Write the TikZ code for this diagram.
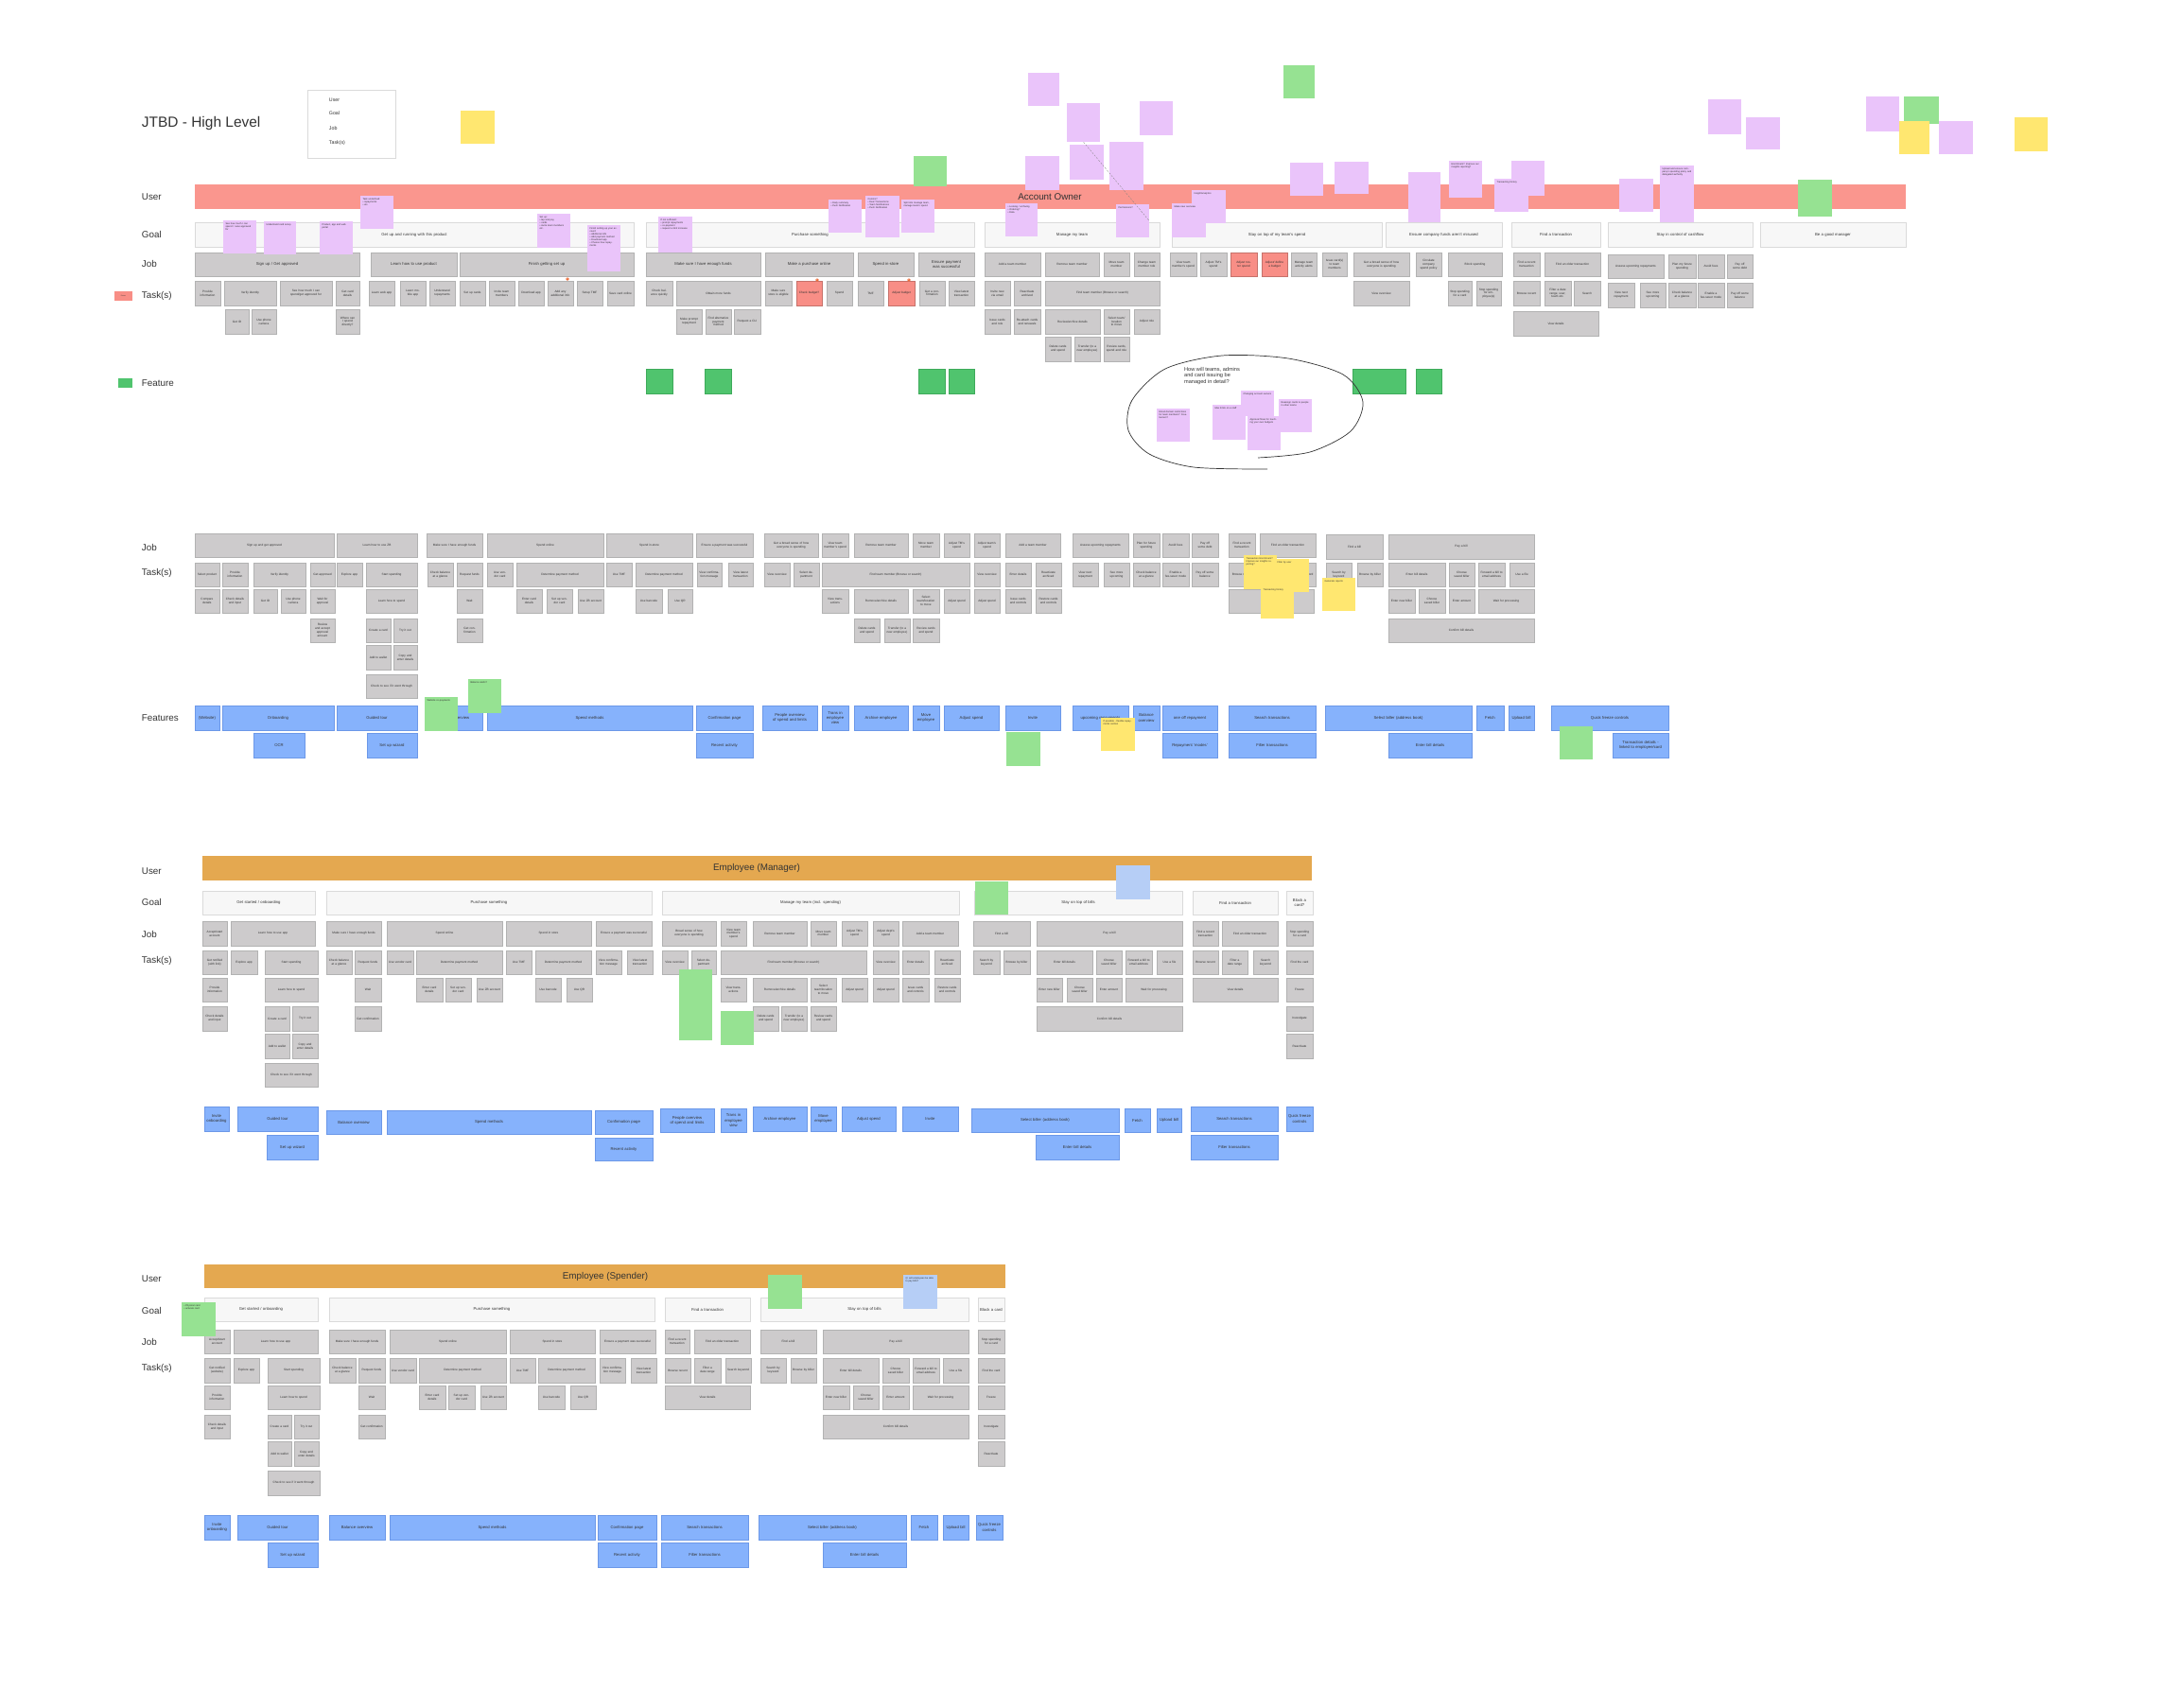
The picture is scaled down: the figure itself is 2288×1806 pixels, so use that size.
\documentclass[tikz,border=0pt]{standalone}
\usepackage{fontspec}
\setmainfont{Liberation Sans}
\usepackage{tikz}
\usetikzlibrary{positioning}

\definecolor{ink}{RGB}{51,51,51}
\definecolor{boxfill}{RGB}{205,203,204}
\definecolor{boxline}{RGB}{178,178,178}
\definecolor{goalfill}{RGB}{247,247,247}
\definecolor{goalline}{RGB}{218,218,218}
\definecolor{redfill}{RGB}{248,142,134}
\definecolor{redband}{RGB}{250,150,142}
\definecolor{orangeband}{RGB}{228,168,80}
\definecolor{featfill}{RGB}{134,178,252}
\definecolor{featline}{RGB}{108,152,232}
\definecolor{greenfill}{RGB}{80,196,110}
\definecolor{greenline}{RGB}{62,170,90}
\definecolor{notepurple}{RGB}{234,196,250}
\definecolor{notegreen}{RGB}{150,226,146}
\definecolor{noteyellow}{RGB}{255,231,112}
\definecolor{noteblue}{RGB}{182,206,246}
\definecolor{stampred}{RGB}{236,110,60}

% one row of boxes: style, top, height, list of left/right/text
\newcommand{\boxrow}[4]{%
  \foreach \xa/\xb/\t in {#4}{%
    \pgfmathsetmacro\bw{(\xb-\xa)*0.5}%
    \pgfmathsetmacro\tw{(\xb-\xa-4)*0.5}%
    \pgfmathsetmacro\cx{(\xa+\xb)/2}%
    \node[#1, minimum width=\bw mm, minimum height=#3*0.5mm, text width=\tw mm]
      (#1-\xa-#2) at (\cx, #2+#3/2) {\t};
  }%
}

% sticky note: name, colour, x1, y1, x2, y2, text
\newcommand{\stick}[7]{%
  \pgfmathsetmacro\sw{(#5-#3)*0.5}%
  \pgfmathsetmacro\sh{(#6-#4)*0.5}%
  \pgfmathsetmacro\st{(#5-#3-5)*0.5}%
  \node[sticky, fill=#2, minimum width=\sw mm, minimum height=\sh mm] (#1) at (#3,#4) {};
  \node[notetext, text width=\st mm] (#1-t) at ([xshift=1.2mm,yshift=-1.2mm]#1.north west) {#7};
}

\begin{document}
\begin{tikzpicture}[
  x=0.05cm, y=-0.05cm,
  every node/.style={inner sep=0.4mm, text=ink},
  lab/.style={anchor=west, font=\fontsize{14}{16}\selectfont},
  band/.style={anchor=north west, inner sep=0},
  goal/.style={rectangle, draw=goalline, fill=goalfill, align=center, font=\fontsize{6}{7}\selectfont},
  jobw/.style={rectangle, draw=boxline, fill=boxfill, align=center, font=\fontsize{6}{7}\selectfont},
  job/.style={jobw, font=\fontsize{4.5}{5.4}\selectfont},
  jobr/.style={job, fill=redfill, draw=redfill!80!black},
  task/.style={job},
  taskr/.style={task, fill=redfill, draw=redfill!80!black},
  feat/.style={rectangle, draw=featline, fill=featfill, align=center, font=\fontsize{6}{7.2}\selectfont},
  featg/.style={feat, draw=greenline, fill=greenfill},
  sticky/.style={rectangle, anchor=north west, inner sep=0, draw=none},
  notetext/.style={anchor=north west, align=left, inner sep=0, font=\fontsize{3.6}{4.4}\selectfont},
  qmark/.style={circle, fill=stampred, inner sep=0.2mm, text=white, font=\fontsize{4}{4}\selectfont\bfseries},
]
\useasboundingbox (0,0) rectangle (2288,1806);

% Title and key
\node[anchor=west, font=\fontsize{22}{26}\selectfont] (title) at (149,131) {JTBD - High Level};
\node[draw=goalline, fill=white, anchor=north west, minimum width=46.5mm, minimum height=36mm] (key) at (325,95) {};
\node[anchor=west, font=\fontsize{7.5}{9}\selectfont] (key-user) at (347,106) {User};
\node[anchor=west, font=\fontsize{7.5}{9}\selectfont] (key-goal) at (347,120) {Goal};
\node[anchor=west, font=\fontsize{7.5}{9}\selectfont] (key-job) at (347,136) {Job};
\node[anchor=west, font=\fontsize{7.5}{9}\selectfont] (key-task) at (347,151) {Task(s)};
\stick{n0}{noteyellow}{487}{117}{523}{152}{}

%% ---------------- Account Owner ----------------
\node[lab] (ao-lab-user) at (149,208) {User};
\node[lab] (ao-lab-goal) at (149,248) {Goal};
\node[lab] (ao-lab-job) at (149,279) {Job};
\node[lab] (ao-lab-task) at (149,313) {Task(s)};
\node[lab] (ao-lab-feat) at (149,405) {Feature};
\node[fill=redfill, minimum width=9.5mm, minimum height=5mm, inner sep=0, font=\fontsize{2.5}{3}\selectfont, left=4.5mm of ao-lab-task.west] (sw-task) {Future};
\node[fill=greenfill, minimum width=7.5mm, minimum height=5mm, inner sep=0, left=4.5mm of ao-lab-feat.west] (sw-feat) {};

\node[band, fill=redband, minimum width=904.5mm, minimum height=13mm] (ao-band) at (206,195) {};
\node[font=\fontsize{14}{16}\selectfont] (ao-name) at (1110,208) {Account Owner};

\boxrow{goal}{235}{26}{206/670/Get up and running with this product, 683/1030/Purchase something,
  1041/1226/Manage my team, 1239/1461/Stay on top of my team's spend, 1465/1588/Ensure company funds aren't misused,
  1598/1692/Find a transaction, 1700/1853/Stay in control of cashflow, 1861/2015/Be a good manager}

\boxrow{jobw}{267}{25}{206/380/{Sign up / Get approved}, 392/483/Learn how to use product, 486/670/Finish getting set up,
  683/804/Make sure I have enough funds, 809/902/Make a purchase online, 907/966/Spend in-store,
  971/1030/Ensure payment was successful}
\boxrow{job}{267}{25}{1041/1100/Add a team member, 1105/1162/Remove team member, 1167/1194/Move team member,
  1199/1226/Change team member role, 1237/1265/View team member's spend, 1269/1297/Adjust TM's spend,
  1365/1392/Manage team activity alerts, 1398/1424/Issue card(s) to team members,
  1431/1490/Get a broad sense of how everyone is spending, 1497/1524/Circulate company spend policy,
  1531/1588/Block spending, 1600/1628/Find a recent transaction, 1633/1692/Find an older transaction}
\boxrow{jobr}{267}{25}{1301/1329/Adjust roster spend, 1334/1361/{Adjust/ define a budget}}
\boxrow{job}{269}{25}{1700/1759/Assess upcoming repayments, 1764/1793/Plan my future spending,
  1795/1823/Avoid fees, 1826/1853/Pay off some debt}

\boxrow{task}{297}{26}{206/233/Provide information, 237/292/Verify identity, 296/351/{See how much I can spend/get approved for},
  355/380/Get card details, 390/417/Learn web app, 423/450/Learn mobile app, 454/481/Understand repayments,
  486/513/Set up cards, 517/544/Invite team members, 548/575/Download app, 579/606/Add any additional info,
  610/637/Setup TMF, 642/670/Save card online, 683/711/Check balance quickly, 715/804/Obtain more funds,
  809/837/Make sure store is eligible, 874/901/Spend, 907/934/TMF, 972/999/Get a confirmation,
  1003/1030/View latest transaction, 1041/1068/Invite new via email, 1072/1100/Reactivate archived,
  1105/1226/Find team member (Browse or search), 1431/1490/View overview, 1531/1556/Stop spending for a card,
  1561/1587/Stop spending for employee(s), 1600/1628/Browse recent, 1633/1661/{Filter a date range, user, team etc.},
  1664/1692/Search}
\boxrow{taskr}{297}{26}{842/869/Check budget?, 939/967/Adjust budget}
\boxrow{task}{299}{26}{1700/1728/View next repayment, 1734/1761/See more upcoming, 1764/1793/Check balance at a glance,
  1795/1823/Enable a fee-saver mode, 1826/1853/Pay off some balance}
\boxrow{task}{327}{26}{238/263/Get ID, 266/292/Use phone camera, 355/380/Where can I spend directly?,
  715/742/Make prompt repayment, 746/773/Find alternative payment method, 776/804/Request a CLI,
  1041/1068/Issue cards and role, 1072/1100/Re-attach cards and renewals, 1105/1163/{Review/archive details},
  1167/1194/{Select team/ location to move}, 1199/1226/Adjust role}
\boxrow{task}{329}{26}{1600/1690/View details}
\boxrow{task}{356}{26}{1105/1132/Delete cards and spend, 1136/1163/Transfer (to a new employee),
  1167/1194/{Review cards, spend and role}}

\node[qmark] (q1) at (600,295) {?};
\node[qmark] (q2) at (864,296) {?};
\node[qmark] (q3) at (961,296) {?};

\boxrow{featg}{390}{26}{683/711/{}, 745/773/{}, 971/999/{}, 1003/1030/{}, 1430/1486/{}, 1497/1524/{}}

% notes on the account owner map
\stick{a1}{notepurple}{236}{233}{271}{268}{See how much I can spend / I was approved for}
\stick{a2}{notepurple}{279}{234}{313}{269}{Understand card setup}
\stick{a3}{notepurple}{338}{234}{373}{269}{Product, app and web portal}
\stick{a4}{notepurple}{381}{207}{416}{242}{Task underlined:\\ • repayments\\ • etc.}
\stick{a5}{notepurple}{568}{226}{603}{262}{Set up:\\ • tap and pay\\ • cards\\ • invite team members etc.}
\stick{a6}{notepurple}{621}{238}{656}{287}{Finish setting up your account:\\ • Additional info\\ • Add payment method\\ • Download app\\ • Choose how repayments}
\stick{a7}{notepurple}{696}{229}{732}{267}{If not sufficient:\\ • prompt repayments\\ • co-payment\\ • request a limit increase}
\stick{a8}{notepurple}{876}{211}{911}{246}{• Daily summary\\ • Push Notification}
\stick{a9}{notepurple}{915}{207}{951}{251}{Comms?\\ • Deal Transactions\\ • Team Notifications\\ • Push Notification}
\stick{a10}{notepurple}{953}{211}{988}{246}{Split into manage team, manage team's spend}
\stick{a11}{notegreen}{966}{165}{1001}{197}{}
\stick{a12}{notepurple}{1063}{215}{1097}{250}{• Looking / archiving\\ • Ordering?\\ • Data}
\stick{top1}{notepurple}{1087}{77}{1120}{112}{}
\stick{top2}{notepurple}{1128}{109}{1163}{150}{}
\stick{top3}{notepurple}{1205}{107}{1240}{143}{}
\stick{top4}{notepurple}{1084}{165}{1120}{201}{}
\stick{top5}{notepurple}{1131}{153}{1167}{190}{}
\stick{top6}{notepurple}{1173}{150}{1209}{201}{}
\stick{perm}{notepurple}{1180}{216}{1215}{251}{Permissions?}
\draw[densely dashed, gray] (top2.south) -- (perm.east);
\stick{a13}{notepurple}{1260}{201}{1296}{236}{Insight/analytics}
\stick{a14}{notepurple}{1239}{215}{1275}{251}{Make new overview}
\stick{a15}{notegreen}{1357}{69}{1390}{104}{}
\stick{a16}{notepurple}{1364}{172}{1399}{207}{}
\stick{a17}{notepurple}{1411}{171}{1447}{205}{}
\stick{a18}{notepurple}{1489}{182}{1523}{235}{}
\stick{a19}{notepurple}{1532}{170}{1567}{209}{Enrichment? Improve our insights reporting?}
\stick{a20}{notepurple}{1598}{170}{1633}{207}{}
\stick{a21}{notepurple}{1580}{189}{1616}{224}{Transacting history}
\stick{a22}{notepurple}{1712}{189}{1748}{224}{}
\stick{a23}{notepurple}{1755}{175}{1791}{235}{Upload and ensure company's spending policy and delegated authority}
\stick{a24}{notegreen}{1901}{190}{1937}{229}{}
\stick{a25}{notepurple}{1806}{105}{1841}{142}{}
\stick{a26}{notepurple}{1846}{124}{1882}{158}{}
\stick{a27}{notepurple}{1973}{102}{2008}{139}{}
\stick{a28}{notegreen}{2013}{102}{2050}{131}{}
\stick{a29}{noteyellow}{2008}{128}{2040}{163}{}
\stick{a30}{notepurple}{2050}{128}{2086}{163}{}
\stick{a31}{noteyellow}{2130}{124}{2165}{160}{}

% open question loop
\draw[line width=0.35mm, ink] plot[smooth] coordinates {(1330,484) (1385,478) (1428,456) (1441,425) (1420,396)
  (1362,379) (1292,376) (1232,390) (1197,423) (1193,455) (1215,480) (1262,494) (1340,496)};
\node[anchor=north west, align=left, inner sep=0, font=\fontsize{8}{9.5}\selectfont] (loop-q) at (1252,388)
  {How will teams, admins\\ and card issuing be\\ managed in detail?};
\stick{c1}{notepurple}{1223}{432}{1258}{467}{Email domain restrictions for team members? Freelancers?}
\stick{c2}{notepurple}{1282}{428}{1317}{465}{Max limits on a staff}
\stick{c3}{notepurple}{1312}{413}{1347}{440}{Changing account owners}
\stick{c4}{notepurple}{1319}{440}{1354}{476}{Approval flows for touching your own budgets}
\stick{c5}{notepurple}{1352}{422}{1387}{457}{Reassign cards to people in other teams}

%% ---------------- Jobs and features ----------------
\node[lab] (mid-lab-job) at (149,579) {Job};
\node[lab] (mid-lab-task) at (149,606) {Task(s)};
\node[lab] (mid-lab-feat) at (149,759) {Features};

\boxrow{job}{564}{25}{206/353/Sign up and get approved, 356/441/Learn how to use ZB, 451/510/Make sure I have enough funds,
  515/638/Spend online, 641/732/Spend in-store, 736/796/Ensure a payment was successful,
  808/865/Get a broad sense of how everyone is spending, 869/897/View team member's spend,
  903/960/Remove team member, 965/993/Move team member, 998/1025/Adjust TM's spend, 1030/1057/Adjust team's spend,
  1063/1121/Add a team member, 1134/1193/Assess upcoming repayments, 1198/1226/Plan for future spending,
  1229/1257/Avoid fees, 1260/1288/Pay off some debt, 1299/1327/Find a recent transaction,
  1332/1391/Find an older transaction}
\boxrow{job}{565}{26}{1402/1462/Find a bill, 1468/1622/Pay a bill}

\boxrow{task}{595}{25}{206/232/Select product, 235/262/Provide information, 268/323/Verify identity, 328/354/Get approved,
  356/383/Explore app, 387/441/Start spending, 452/479/Check balance at a glance, 483/510/Request funds,
  515/542/Use vendor card, 546/638/Determine payment method, 641/668/Use TMF, 672/732/Determine payment method,
  737/763/View confirmation message, 770/796/View latest transaction, 808/835/View overview,
  839/866/Select department, 869/1025/Find team member (Browse or search), 1030/1057/View overview,
  1063/1090/Enter details, 1095/1122/Reactivate archived, 1134/1161/View next repayment,
  1167/1194/See more upcoming, 1198/1226/Check balance at a glance, 1229/1257/Enable a fee-saver mode,
  1260/1288/Pay off some balance, 1299/1327/Browse recent, 1332/1360/Filter a date range,
  1363/1391/Search keyword, 1402/1429/Search by keyword, 1435/1462/Browse by biller,
  1468/1528/Enter bill details, 1532/1559/Choose saved biller, 1563/1591/Forward a bill to email address,
  1596/1622/Use a file}
\boxrow{task}{623}{25}{206/232/Compare details, 235/262/Check details and input, 268/293/Get ID, 297/323/Use phone camera,
  328/354/Wait for approval, 387/441/Learn how to spend, 483/510/Wait, 546/573/Enter card details,
  578/605/Set up vendor card, 611/638/Use ZB account, 672/700/Use barcode, 706/732/Use QR,
  869/897/View transactions, 903/960/{Remove/archive details}, 965/993/{Select team/location to move},
  998/1025/Adjust spend, 1030/1057/Adjust spend, 1063/1090/Issue cards and controls,
  1095/1122/Restore cards and controls, 1299/1389/View details, 1468/1496/Enter new biller,
  1500/1528/Choose saved biller, 1532/1559/Enter amount, 1563/1622/Wait for processing}
\boxrow{task}{654}{25}{328/354/Review and accept approval amount, 387/413/Create a card, 416/441/Try it out,
  483/510/Get confirmation, 903/930/Delete cards and spend, 935/962/Transfer (to a new employee),
  965/993/Review cards and spend, 1468/1622/Confirm bill details}
\boxrow{task}{682}{26}{387/413/Add to wallet, 416/441/Copy and enter details}
\boxrow{task}{713}{25}{387/441/Check to see if it went through}

\boxrow{feat}{746}{26}{206/232/(Website), 235/353/Onboarding, 356/441/Guided tour, 449/510/Balance overview,
  515/732/Spend methods, 736/796/Confirmation page, 806/864/People overview of spend and limits,
  869/897/Trans in employee view, 903/960/Archive employee, 965/993/Move employee, 998/1056/Adjust spend,
  1063/1121/Invite, 1134/1193/upcoming repayments, 1198/1226/Balance overview, 1229/1287/one off repayment,
  1299/1391/Search transactions, 1401/1556/Select biller (address book), 1561/1590/Fetch,
  1595/1622/Upload bill, 1640/1764/Quick freeze controls}
\boxrow{feat}{775}{26}{268/322/OCR, 388/441/Set up wizard, 736/796/Recent activity, 1229/1287/Repayment 'modes',
  1299/1391/Filter transactions, 1468/1556/Enter bill details, 1705/1764/{Transaction details - linked to employee/card}}

\stick{m1}{noteyellow}{1315}{587}{1350}{623}{Transaction Enrichment? Improve our insights reporting?}
\stick{m2}{noteyellow}{1348}{591}{1384}{626}{Filter by user}
\stick{m3}{noteyellow}{1333}{620}{1368}{654}{Transacting history}
\stick{m4}{noteyellow}{1398}{611}{1433}{646}{Generate reports}
\stick{m5}{noteyellow}{1164}{759}{1200}{794}{If possible - flexible repayments section}
\stick{m6}{notegreen}{1064}{774}{1100}{810}{}
\stick{m7}{notegreen}{1649}{768}{1684}{803}{}
\stick{m8}{notegreen}{449}{737}{484}{773}{Website co-payments}
\stick{m9}{notegreen}{495}{718}{530}{754}{Balance alerts?}

%% ---------------- Employee (Manager) ----------------
\node[lab] (mg-lab-user) at (149,921) {User};
\node[lab] (mg-lab-goal) at (149,954) {Goal};
\node[lab] (mg-lab-job) at (149,988) {Job};
\node[lab] (mg-lab-task) at (149,1016) {Task(s)};

\node[band, fill=orangeband, minimum width=586.5mm, minimum height=13mm] (mg-band) at (214,905) {};
\node[font=\fontsize{14}{16}\selectfont] (mg-name) at (800,918) {Employee (Manager)};

\boxrow{goal}{942}{25}{214/333/{Get started / onboarding}, 345/689/Purchase something, 700/1014/Manage my team (incl. spending),
  1030/1250/Stay on top of bills, 1261/1351/Find a transaction, 1360/1388/Block a card?}
\boxrow{job}{974}{26}{214/240/{Accept/start account}, 244/333/Learn how to use app, 345/403/Make sure I have enough funds,
  409/531/Spend online, 535/625/Spend in store, 630/689/Ensure a payment was successful,
  700/757/Broad sense of how everyone is spending, 762/789/View team member's spend, 796/853/Remove team member,
  857/884/Move team member, 890/917/Adjust TM's spend, 923/950/Adjust dept's spend, 954/1013/Add a team member,
  1029/1089/Find a bill, 1096/1250/Pay a bill, 1261/1288/Find a recent transaction,
  1292/1351/Find an older transaction, 1360/1388/Stop spending for a card}
\boxrow{task}{1005}{25}{214/240/Get notified (with link), 244/272/Explore app, 280/336/Start spending,
  345/372/Check balance at a glance, 375/403/Request funds, 409/437/Use vendor card, 440/531/Determine payment method,
  535/562/Use TMF, 566/625/Determine payment method, 630/657/View confirmation message,
  663/690/View latest transaction, 700/727/View overview, 731/757/Select department,
  762/916/Find team member (Browse or search), 923/950/View overview, 954/982/Enter details,
  988/1015/Reactivate archived, 1029/1057/Search by keyword, 1061/1089/Browse by biller,
  1096/1155/Enter bill details, 1159/1186/Choose saved biller, 1190/1218/Forward a bill to email address,
  1223/1250/Use a file, 1261/1288/Browse recent, 1292/1319/Filter a date range, 1325/1351/Search keyword,
  1360/1388/Find the card}
\boxrow{task}{1034}{25}{214/240/Provide information, 280/336/Learn how to spend, 375/403/Wait, 440/468/Enter card details,
  471/498/Set up vendor card, 504/531/Use ZB account, 566/593/Use barcode, 599/626/Use QR,
  762/789/View transactions, 796/853/{Remove/archive details}, 857/884/{Select team/location to move},
  890/917/Adjust spend, 923/950/Adjust spend, 954/982/Issue cards and controls, 988/1015/Restore cards and controls,
  1096/1123/Enter new biller, 1128/1155/Choose saved biller, 1159/1186/Enter amount,
  1190/1250/Wait for processing, 1261/1351/View details, 1360/1388/Freeze}
\boxrow{task}{1064}{26}{214/240/Check details and input, 280/306/Create a card, 309/336/Try it out, 375/403/Get confirmation,
  796/823/Delete cards and spend, 826/853/Transfer (to a new employee), 857/884/Review cards and spend,
  1096/1250/Confirm bill details, 1360/1388/Investigate}
\boxrow{task}{1093}{26}{280/306/Add to wallet, 309/336/Copy and enter details, 1360/1388/Reactivate}
\boxrow{task}{1124}{25}{280/336/Check to see if it went through}

\boxrow{feat}{1170}{26}{216/242/Invite onboarding, 251/336/Guided tour, 796/853/Archive employee, 857/884/Move employee,
  890/947/Adjust spend, 954/1013/Invite, 1259/1351/Search transactions, 1360/1388/Quick freeze controls}
\boxrow{feat}{1174}{25}{345/403/Balance overview, 409/625/Spend methods, 629/690/Confirmation page}
\boxrow{feat}{1172}{25}{698/755/People overview of spend and limits, 762/789/Trans in employee view,
  1027/1183/Select biller (address book), 1189/1216/Fetch, 1223/1249/Upload bill}
\boxrow{feat}{1200}{26}{282/336/Set up wizard, 1095/1183/Enter bill details, 1259/1351/Filter transactions}
\boxrow{feat}{1203}{24}{629/690/Recent activity}

\stick{g1}{notegreen}{718}{1025}{753}{1100}{}
\stick{g2}{notegreen}{762}{1069}{797}{1105}{}
\stick{g3}{notegreen}{1031}{932}{1066}{967}{}
\stick{g4}{noteblue}{1180}{915}{1216}{951}{}

%% ---------------- Employee (Spender) ----------------
\node[lab] (sp-lab-user) at (149,1352) {User};
\node[lab] (sp-lab-goal) at (149,1386) {Goal};
\node[lab] (sp-lab-job) at (149,1419) {Job};
\node[lab] (sp-lab-task) at (149,1447) {Task(s)};

\node[band, fill=orangeband, minimum width=423.5mm, minimum height=12.5mm] (sp-band) at (216,1337) {};
\node[font=\fontsize{14}{16}\selectfont] (sp-name) at (640,1350) {Employee (Spender)};

\boxrow{goal}{1372}{25}{216/336/{Get started / onboarding}, 348/692/Purchase something, 703/793/Find a transaction,
  804/1024/Stay on top of bills, 1034/1062/Block a card}
\boxrow{job}{1406}{25}{216/243/{Accept/start account}, 247/336/Learn how to use app, 348/407/Make sure I have enough funds,
  412/535/Spend online, 539/629/Spend in store, 634/693/Ensure a payment was successful,
  703/729/Find a recent transaction, 734/793/Find an older transaction, 804/863/Find a bill, 870/1024/Pay a bill,
  1034/1062/Stop spending for a card}
\boxrow{task}{1436}{26}{216/243/Get notified (website), 247/274/Explore app, 283/338/Start spending,
  348/376/Check balance at a glance, 379/407/Request funds, 412/440/Use vendor card, 443/535/Determine payment method,
  539/566/Use TMF, 569/629/Determine payment method, 634/661/View confirmation message,
  667/694/View latest transaction, 703/730/Browse recent, 734/762/Filter a date range, 767/794/Search keyword,
  804/831/Search by keyword, 836/863/Browse by biller, 870/929/Enter bill details, 933/961/Choose saved biller,
  965/993/Forward a bill to email address, 997/1024/Use a file, 1034/1062/Find the card}
\boxrow{task}{1465}{25}{216/243/Provide information, 283/338/Learn how to spend, 379/407/Wait, 443/471/Enter card details,
  474/502/Set up vendor card, 508/535/Use ZB account, 569/597/Use barcode, 603/630/Use QR, 703/793/View details,
  870/898/Enter new biller, 902/929/Choose saved biller, 933/961/Enter amount, 965/1024/Wait for processing,
  1034/1062/Freeze}
\boxrow{task}{1496}{25}{216/243/Check details and input, 283/308/Create a card, 311/337/Try it out,
  379/407/Get confirmation, 870/1024/Confirm bill details, 1034/1062/Investigate}
\boxrow{task}{1524}{26}{283/308/Add to wallet, 311/337/Copy and enter details, 1034/1062/Reactivate}
\boxrow{task}{1555}{26}{283/338/Check to see if it went through}

\boxrow{feat}{1602}{26}{216/243/Invite onboarding, 251/336/Guided tour, 348/407/Balance overview, 412/629/Spend methods,
  632/694/Confirmation page, 699/791/Search transactions, 802/958/Select biller (address book), 963/991/Fetch,
  997/1024/Upload bill, 1032/1060/Quick freeze controls}
\boxrow{feat}{1631}{26}{283/336/Set up wizard, 632/694/Recent activity, 699/791/Filter transactions, 870/958/Enter bill details}

\stick{s1}{notegreen}{192}{1377}{228}{1413}{• Physical card\\ • activate card}
\stick{s2}{notegreen}{812}{1348}{848}{1384}{}
\stick{s3}{noteblue}{955}{1348}{991}{1384}{Q: will employees be able to pay bills?}

\end{tikzpicture}
\end{document}
